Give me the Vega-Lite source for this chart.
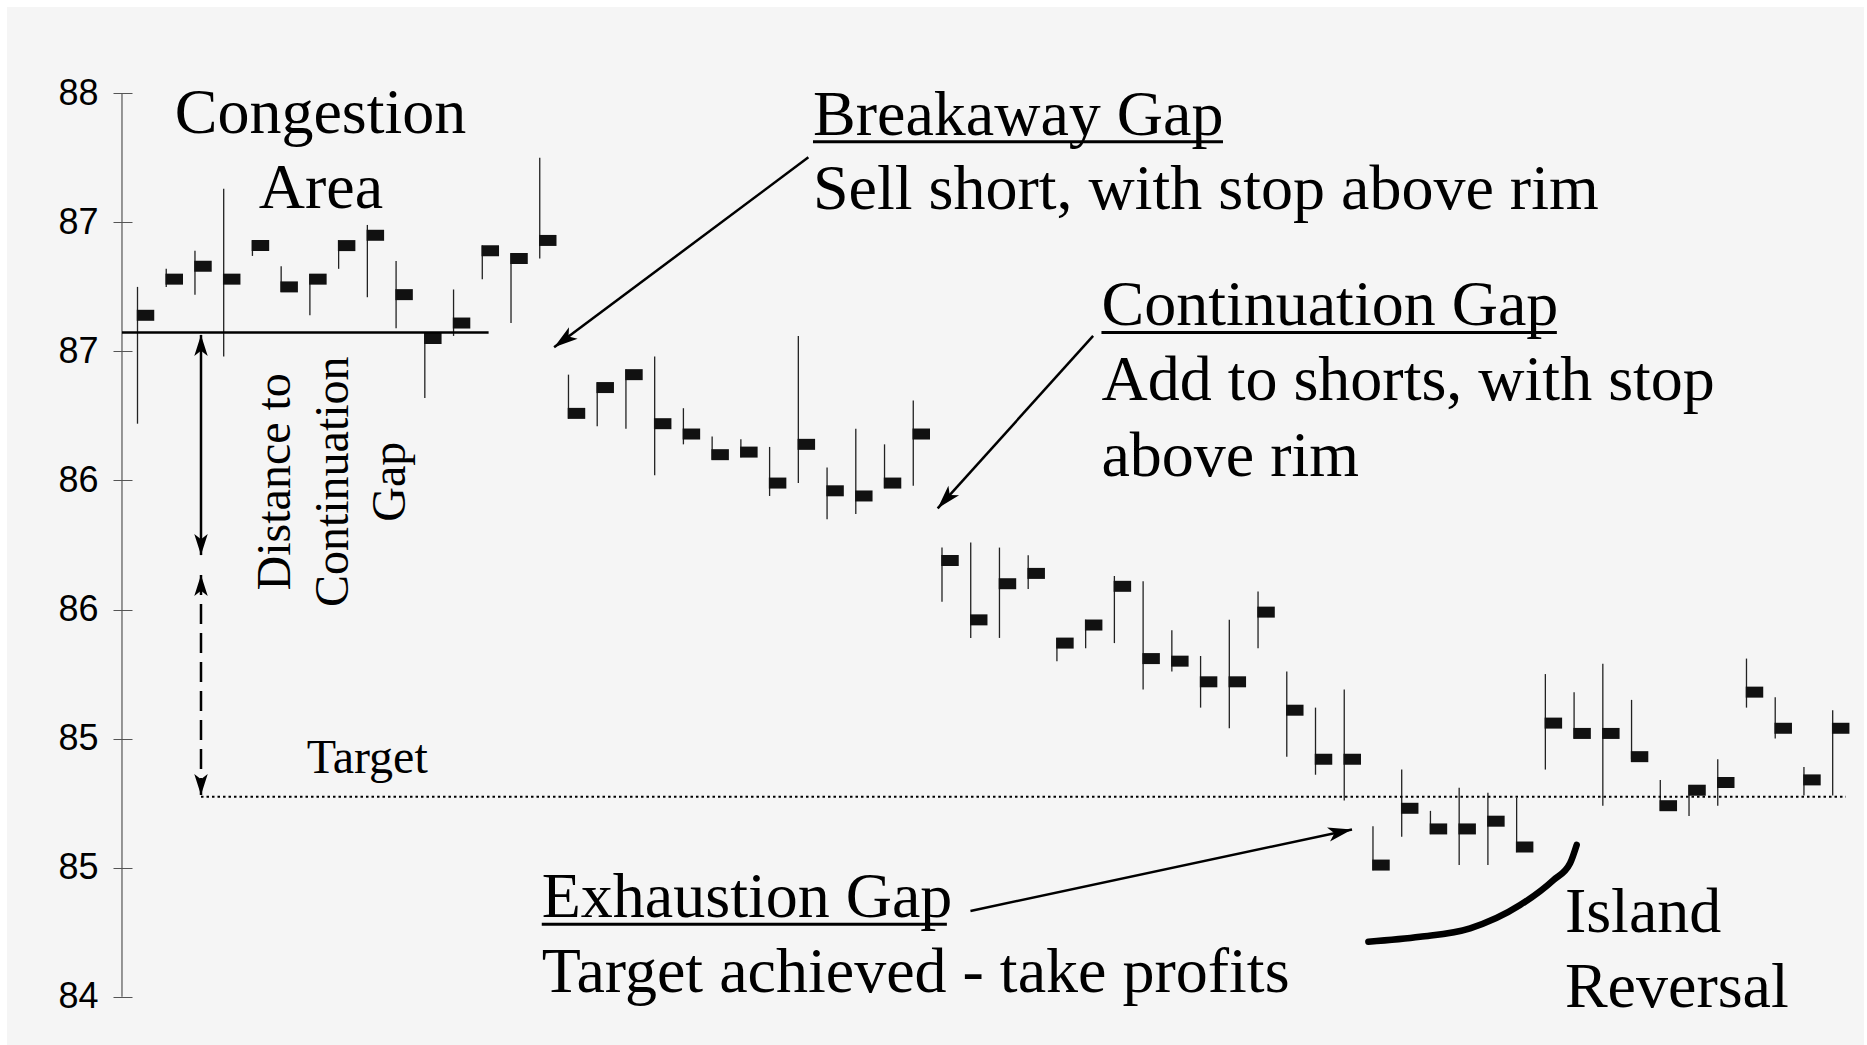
{
  "$schema": "https://vega.github.io/schema/vega-lite/v6.json",
  "width": 1857,
  "height": 1038,
  "autosize": {"type": "none"},
  "padding": {"left": 7, "top": 7, "right": 3, "bottom": 0},
  "background": "white",
  "config": {"view": {"fill": "#f5f5f5", "stroke": null}},
  "datasets": {
    "candles": [
      {"day": 1, "high": 86.75, "low": 86.22, "close": 86.64},
      {"day": 2, "high": 86.82, "low": 86.75, "close": 86.78},
      {"day": 3, "high": 86.89, "low": 86.72, "close": 86.83},
      {"day": 4, "high": 87.13, "low": 86.48, "close": 86.78},
      {"day": 5, "high": 86.93, "low": 86.87, "close": 86.91},
      {"day": 6, "high": 86.83, "low": 86.73, "close": 86.75},
      {"day": 7, "high": 86.80, "low": 86.64, "close": 86.78},
      {"day": 8, "high": 86.93, "low": 86.82, "close": 86.91},
      {"day": 9, "high": 86.99, "low": 86.71, "close": 86.95},
      {"day": 10, "high": 86.85, "low": 86.59, "close": 86.72},
      {"day": 11, "high": 86.57, "low": 86.32, "close": 86.55},
      {"day": 12, "high": 86.74, "low": 86.56, "close": 86.61},
      {"day": 13, "high": 86.91, "low": 86.78, "close": 86.89},
      {"day": 14, "high": 86.88, "low": 86.61, "close": 86.86},
      {"day": 15, "high": 87.25, "low": 86.86, "close": 86.93},
      {"day": 16, "high": 86.41, "low": 86.24, "close": 86.26},
      {"day": 17, "high": 86.38, "low": 86.21, "close": 86.36},
      {"day": 18, "high": 86.43, "low": 86.20, "close": 86.41},
      {"day": 19, "high": 86.48, "low": 86.02, "close": 86.22},
      {"day": 20, "high": 86.28, "low": 86.14, "close": 86.18},
      {"day": 21, "high": 86.17, "low": 86.08, "close": 86.10},
      {"day": 22, "high": 86.16, "low": 86.09, "close": 86.11},
      {"day": 23, "high": 86.13, "low": 85.94, "close": 85.99},
      {"day": 24, "high": 86.56, "low": 85.99, "close": 86.14},
      {"day": 25, "high": 86.05, "low": 85.85, "close": 85.96},
      {"day": 26, "high": 86.20, "low": 85.87, "close": 85.94},
      {"day": 27, "high": 86.14, "low": 85.97, "close": 85.99},
      {"day": 28, "high": 86.31, "low": 85.98, "close": 86.18},
      {"day": 29, "high": 85.74, "low": 85.53, "close": 85.69},
      {"day": 30, "high": 85.76, "low": 85.39, "close": 85.46},
      {"day": 31, "high": 85.74, "low": 85.39, "close": 85.60},
      {"day": 32, "high": 85.71, "low": 85.58, "close": 85.64},
      {"day": 33, "high": 85.39, "low": 85.30, "close": 85.37},
      {"day": 34, "high": 85.46, "low": 85.35, "close": 85.44},
      {"day": 35, "high": 85.63, "low": 85.37, "close": 85.59},
      {"day": 36, "high": 85.61, "low": 85.19, "close": 85.31},
      {"day": 37, "high": 85.42, "low": 85.26, "close": 85.30},
      {"day": 38, "high": 85.32, "low": 85.12, "close": 85.22},
      {"day": 39, "high": 85.46, "low": 85.04, "close": 85.22},
      {"day": 40, "high": 85.57, "low": 85.35, "close": 85.49},
      {"day": 41, "high": 85.26, "low": 84.93, "close": 85.11},
      {"day": 42, "high": 85.12, "low": 84.86, "close": 84.92},
      {"day": 43, "high": 85.19, "low": 84.76, "close": 84.92},
      {"day": 44, "high": 84.66, "low": 84.49, "close": 84.51},
      {"day": 45, "high": 84.88, "low": 84.62, "close": 84.73},
      {"day": 46, "high": 84.72, "low": 84.63, "close": 84.65},
      {"day": 47, "high": 84.81, "low": 84.51, "close": 84.65},
      {"day": 48, "high": 84.79, "low": 84.51, "close": 84.68},
      {"day": 49, "high": 84.77, "low": 84.56, "close": 84.58},
      {"day": 50, "high": 85.25, "low": 84.88, "close": 85.06},
      {"day": 51, "high": 85.18, "low": 85.00, "close": 85.02},
      {"day": 52, "high": 85.29, "low": 84.74, "close": 85.02},
      {"day": 53, "high": 85.15, "low": 84.92, "close": 84.93},
      {"day": 54, "high": 84.84, "low": 84.72, "close": 84.74},
      {"day": 55, "high": 84.82, "low": 84.70, "close": 84.80},
      {"day": 56, "high": 84.92, "low": 84.74, "close": 84.83},
      {"day": 57, "high": 85.31, "low": 85.12, "close": 85.18},
      {"day": 58, "high": 85.16, "low": 85.00, "close": 85.04},
      {"day": 59, "high": 84.89, "low": 84.78, "close": 84.84},
      {"day": 60, "high": 85.11, "low": 84.78, "close": 85.04}
    ],
    "lines": [
      {"kind": "axis", "x1": 0.46, "y1": 84, "x2": 0.46, "y2": 87.5},
      {"kind": "solid", "x1": 0.46, "y1": 86.573, "x2": 13.22, "y2": 86.573},
      {"kind": "solid", "x1": 3.21, "y1": 86.564, "x2": 3.21, "y2": 85.711},
      {"kind": "solid", "x1": 24.35, "y1": 87.252, "x2": 15.50, "y2": 86.516},
      {"kind": "solid", "x1": 34.26, "y1": 86.560, "x2": 28.85, "y2": 85.892},
      {"kind": "solid", "x1": 29.99, "y1": 84.332, "x2": 43.27, "y2": 84.648},
      {"kind": "dashed", "x1": 3.21, "y1": 85.634, "x2": 3.21, "y2": 84.781},
      {"kind": "dotted", "x1": 3.21, "y1": 84.775, "x2": 60.46, "y2": 84.775},
      {"kind": "underline", "x1": 24.51, "y1": 87.3126, "x2": 38.78, "y2": 87.3126},
      {"kind": "underline", "x1": 34.55, "y1": 86.573, "x2": 50.40, "y2": 86.573},
      {"kind": "underline", "x1": 15.07, "y1": 84.2805, "x2": 29.17, "y2": 84.2805}
    ],
    "heads": [
      {"arrow": "breakaway", "x": 15.50, "y": 86.516},
      {"arrow": "continuation", "x": 28.85, "y": 85.892},
      {"arrow": "exhaustion", "x": 43.27, "y": 84.648},
      {"arrow": "up", "x": 3.21, "y": 86.564},
      {"arrow": "up", "x": 3.21, "y": 85.634},
      {"arrow": "down", "x": 3.21, "y": 85.711},
      {"arrow": "down", "x": 3.21, "y": 84.781}
    ],
    "curve": [
      {"x": 43.84, "y": 84.213},
      {"x": 45.64, "y": 84.232},
      {"x": 47.38, "y": 84.265},
      {"x": 49.12, "y": 84.355},
      {"x": 50.28, "y": 84.452},
      {"x": 50.86, "y": 84.517},
      {"x": 51.09, "y": 84.588}
    ],
    "texts": [
      {"role": "title", "text": "Congestion", "x": 7.37, "y": 87.347},
      {"role": "title", "text": "Area", "x": 7.387, "y": 87.054},
      {"role": "callout", "text": "Breakaway Gap", "x": 24.51, "y": 87.340},
      {"role": "callout", "text": "Sell short, with stop above rim", "x": 24.51, "y": 87.052},
      {"role": "callout", "text": "Continuation Gap", "x": 34.55, "y": 86.602},
      {"role": "callout", "text": "Add to shorts, with stop", "x": 34.55, "y": 86.310},
      {"role": "callout", "text": "above rim", "x": 34.55, "y": 86.017},
      {"role": "callout", "text": "Exhaustion Gap", "x": 15.07, "y": 84.310},
      {"role": "callout", "text": "Target achieved - take profits", "x": 15.07, "y": 84.019},
      {"role": "callout", "text": "Island", "x": 50.68, "y": 84.252},
      {"role": "callout", "text": "Reversal", "x": 50.68, "y": 83.960},
      {"role": "small", "text": "Target", "x": 6.889, "y": 84.866},
      {"role": "vertical", "text": "Distance to", "x": 6.308, "y": 85.995},
      {"role": "vertical", "text": "Continuation", "x": 8.309, "y": 85.995},
      {"role": "vertical", "text": "Gap", "x": 10.293, "y": 85.995}
    ]
  },
  "layer": [
    {
      "data": {"name": "candles"},
      "mark": {"type": "rule", "color": "#222", "strokeWidth": 1.3},
      "encoding": {
        "x": {"field": "day", "type": "quantitative", "scale": {"type": "linear", "domain": [-3.542, 61.09], "nice": false, "zero": false}, "axis": null},
        "y": {"field": "low", "type": "quantitative", "scale": {"type": "linear", "domain": [83.8129, 87.8344], "nice": false, "zero": false},
          "axis": {"values": [84, 84.5, 85, 85.5, 86, 86.5, 87, 87.5], "format": ".0f", "domain": false, "grid": false, "offset": -125, "tickSize": 19, "tickColor": "#555", "tickWidth": 1, "labelFont": "Liberation Sans", "labelFontSize": 36, "labelPadding": 15, "labelColor": "black", "title": null}},
        "y2": {"field": "high"}
      }
    },
    {
      "data": {"name": "candles"},
      "mark": {"type": "tick", "orient": "horizontal", "size": 17.5, "thickness": 11, "xOffset": 8, "color": "#111", "opacity": 1},
      "encoding": {
        "x": {"field": "day", "type": "quantitative", "scale": {"type": "linear", "domain": [-3.542, 61.09], "nice": false, "zero": false}, "axis": null},
        "y": {"field": "close", "type": "quantitative", "scale": {"type": "linear", "domain": [83.8129, 87.8344], "nice": false, "zero": false}}
      }
    },
    {
      "data": {"name": "lines"},
      "transform": [{"filter": "datum.kind === 'axis'"}],
      "mark": {"type": "rule", "color": "#555", "strokeWidth": 1.2},
      "encoding": {
        "x": {"field": "x1", "type": "quantitative", "scale": {"type": "linear", "domain": [-3.542, 61.09], "nice": false, "zero": false}, "axis": null},
        "x2": {"field": "x2"},
        "y": {"field": "y1", "type": "quantitative", "scale": {"type": "linear", "domain": [83.8129, 87.8344], "nice": false, "zero": false}},
        "y2": {"field": "y2"}
      }
    },
    {
      "data": {"name": "lines"},
      "transform": [{"filter": "datum.kind === 'solid'"}],
      "mark": {"type": "rule", "color": "black", "strokeWidth": 2.5},
      "encoding": {
        "x": {"field": "x1", "type": "quantitative", "scale": {"type": "linear", "domain": [-3.542, 61.09], "nice": false, "zero": false}, "axis": null},
        "x2": {"field": "x2"},
        "y": {"field": "y1", "type": "quantitative", "scale": {"type": "linear", "domain": [83.8129, 87.8344], "nice": false, "zero": false}},
        "y2": {"field": "y2"}
      }
    },
    {
      "data": {"name": "lines"},
      "transform": [{"filter": "datum.kind === 'dashed'"}],
      "mark": {"type": "rule", "color": "black", "strokeWidth": 2.5, "strokeDash": [20, 9]},
      "encoding": {
        "x": {"field": "x1", "type": "quantitative", "scale": {"type": "linear", "domain": [-3.542, 61.09], "nice": false, "zero": false}, "axis": null},
        "x2": {"field": "x2"},
        "y": {"field": "y1", "type": "quantitative", "scale": {"type": "linear", "domain": [83.8129, 87.8344], "nice": false, "zero": false}},
        "y2": {"field": "y2"}
      }
    },
    {
      "data": {"name": "lines"},
      "transform": [{"filter": "datum.kind === 'dotted'"}],
      "mark": {"type": "rule", "color": "black", "strokeWidth": 2, "strokeDash": [2.5, 3]},
      "encoding": {
        "x": {"field": "x1", "type": "quantitative", "scale": {"type": "linear", "domain": [-3.542, 61.09], "nice": false, "zero": false}, "axis": null},
        "x2": {"field": "x2"},
        "y": {"field": "y1", "type": "quantitative", "scale": {"type": "linear", "domain": [83.8129, 87.8344], "nice": false, "zero": false}},
        "y2": {"field": "y2"}
      }
    },
    {
      "data": {"name": "lines"},
      "transform": [{"filter": "datum.kind === 'underline'"}],
      "mark": {"type": "rule", "color": "black", "strokeWidth": 3},
      "encoding": {
        "x": {"field": "x1", "type": "quantitative", "scale": {"type": "linear", "domain": [-3.542, 61.09], "nice": false, "zero": false}, "axis": null},
        "x2": {"field": "x2"},
        "y": {"field": "y1", "type": "quantitative", "scale": {"type": "linear", "domain": [83.8129, 87.8344], "nice": false, "zero": false}},
        "y2": {"field": "y2"}
      }
    },
    {
      "data": {"name": "curve"},
      "mark": {"type": "line", "color": "black", "strokeWidth": 6.5, "strokeCap": "round", "interpolate": "monotone"},
      "encoding": {
        "x": {"field": "x", "type": "quantitative", "scale": {"type": "linear", "domain": [-3.542, 61.09], "nice": false, "zero": false}, "axis": null},
        "y": {"field": "y", "type": "quantitative", "scale": {"type": "linear", "domain": [83.8129, 87.8344], "nice": false, "zero": false}}
      }
    },
    {
      "data": {"name": "heads"},
      "transform": [{"filter": "datum.arrow === 'breakaway'"}],
      "mark": {"type": "point", "shape": "M0,0 L0.3,1 L0,0.75 L-0.3,1 Z", "size": 2304, "filled": true, "color": "black", "opacity": 1, "angle": 233.2},
      "encoding": {
        "x": {"field": "x", "type": "quantitative", "scale": {"type": "linear", "domain": [-3.542, 61.09], "nice": false, "zero": false}, "axis": null},
        "y": {"field": "y", "type": "quantitative", "scale": {"type": "linear", "domain": [83.8129, 87.8344], "nice": false, "zero": false}}
      }
    },
    {
      "data": {"name": "heads"},
      "transform": [{"filter": "datum.arrow === 'continuation'"}],
      "mark": {"type": "point", "shape": "M0,0 L0.3,1 L0,0.75 L-0.3,1 Z", "size": 2304, "filled": true, "color": "black", "opacity": 1, "angle": 222},
      "encoding": {
        "x": {"field": "x", "type": "quantitative", "scale": {"type": "linear", "domain": [-3.542, 61.09], "nice": false, "zero": false}, "axis": null},
        "y": {"field": "y", "type": "quantitative", "scale": {"type": "linear", "domain": [83.8129, 87.8344], "nice": false, "zero": false}}
      }
    },
    {
      "data": {"name": "heads"},
      "transform": [{"filter": "datum.arrow === 'exhaustion'"}],
      "mark": {"type": "point", "shape": "M0,0 L0.3,1 L0,0.75 L-0.3,1 Z", "size": 2304, "filled": true, "color": "black", "opacity": 1, "angle": 78},
      "encoding": {
        "x": {"field": "x", "type": "quantitative", "scale": {"type": "linear", "domain": [-3.542, 61.09], "nice": false, "zero": false}, "axis": null},
        "y": {"field": "y", "type": "quantitative", "scale": {"type": "linear", "domain": [83.8129, 87.8344], "nice": false, "zero": false}}
      }
    },
    {
      "data": {"name": "heads"},
      "transform": [{"filter": "datum.arrow === 'up'"}],
      "mark": {"type": "point", "shape": "M0,0 L0.32,1 L0,0.75 L-0.32,1 Z", "size": 1764, "filled": true, "color": "black", "opacity": 1, "angle": 0},
      "encoding": {
        "x": {"field": "x", "type": "quantitative", "scale": {"type": "linear", "domain": [-3.542, 61.09], "nice": false, "zero": false}, "axis": null},
        "y": {"field": "y", "type": "quantitative", "scale": {"type": "linear", "domain": [83.8129, 87.8344], "nice": false, "zero": false}}
      }
    },
    {
      "data": {"name": "heads"},
      "transform": [{"filter": "datum.arrow === 'down'"}],
      "mark": {"type": "point", "shape": "M0,0 L0.32,1 L0,0.75 L-0.32,1 Z", "size": 1764, "filled": true, "color": "black", "opacity": 1, "angle": 180},
      "encoding": {
        "x": {"field": "x", "type": "quantitative", "scale": {"type": "linear", "domain": [-3.542, 61.09], "nice": false, "zero": false}, "axis": null},
        "y": {"field": "y", "type": "quantitative", "scale": {"type": "linear", "domain": [83.8129, 87.8344], "nice": false, "zero": false}}
      }
    },
    {
      "data": {"name": "texts"},
      "transform": [{"filter": "datum.role === 'title'"}],
      "mark": {"type": "text", "font": "Liberation Serif", "fontSize": 64, "align": "center", "baseline": "alphabetic", "color": "black"},
      "encoding": {
        "x": {"field": "x", "type": "quantitative", "scale": {"type": "linear", "domain": [-3.542, 61.09], "nice": false, "zero": false}, "axis": null},
        "y": {"field": "y", "type": "quantitative", "scale": {"type": "linear", "domain": [83.8129, 87.8344], "nice": false, "zero": false}},
        "text": {"field": "text"}
      }
    },
    {
      "data": {"name": "texts"},
      "transform": [{"filter": "datum.role === 'callout'"}],
      "mark": {"type": "text", "font": "Liberation Serif", "fontSize": 64, "align": "left", "baseline": "alphabetic", "color": "black"},
      "encoding": {
        "x": {"field": "x", "type": "quantitative", "scale": {"type": "linear", "domain": [-3.542, 61.09], "nice": false, "zero": false}, "axis": null},
        "y": {"field": "y", "type": "quantitative", "scale": {"type": "linear", "domain": [83.8129, 87.8344], "nice": false, "zero": false}},
        "text": {"field": "text"}
      }
    },
    {
      "data": {"name": "texts"},
      "transform": [{"filter": "datum.role === 'small'"}],
      "mark": {"type": "text", "font": "Liberation Serif", "fontSize": 48, "align": "left", "baseline": "alphabetic", "color": "black"},
      "encoding": {
        "x": {"field": "x", "type": "quantitative", "scale": {"type": "linear", "domain": [-3.542, 61.09], "nice": false, "zero": false}, "axis": null},
        "y": {"field": "y", "type": "quantitative", "scale": {"type": "linear", "domain": [83.8129, 87.8344], "nice": false, "zero": false}},
        "text": {"field": "text"}
      }
    },
    {
      "data": {"name": "texts"},
      "transform": [{"filter": "datum.role === 'vertical'"}],
      "mark": {"type": "text", "font": "Liberation Serif", "fontSize": 48, "angle": 270, "align": "center", "baseline": "alphabetic", "color": "black"},
      "encoding": {
        "x": {"field": "x", "type": "quantitative", "scale": {"type": "linear", "domain": [-3.542, 61.09], "nice": false, "zero": false}, "axis": null},
        "y": {"field": "y", "type": "quantitative", "scale": {"type": "linear", "domain": [83.8129, 87.8344], "nice": false, "zero": false}},
        "text": {"field": "text"}
      }
    }
  ]
}
